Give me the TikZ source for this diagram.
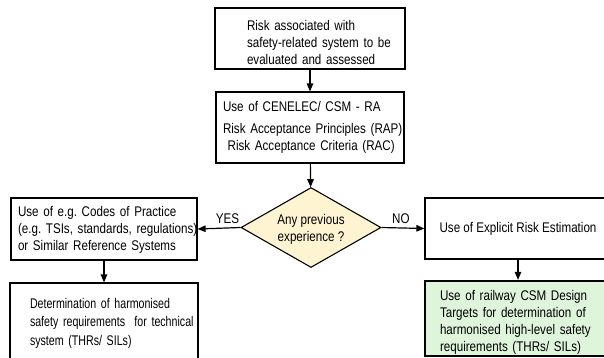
\documentclass[tikz,border=0pt]{standalone}
\usepackage{fontspec}
\setmainfont{Liberation Sans}[FakeStretch=0.83]
\newfontfamily\narrowsans{Liberation Sans}[FakeStretch=0.76]
\usetikzlibrary{arrows.meta,shapes.geometric}
\frenchspacing
\definecolor{decisionfill}{RGB}{255,244,210}
\definecolor{targetfill}{RGB}{222,245,220}
% raise the height of a first line so that a text block sits lower in its box
\newcommand{\toppad}[1]{\rule{0pt}{#1}}
\tikzset{
  box/.style={draw=black, line width=1.2pt, fill=white, align=left,
    inner xsep=0pt, inner ysep=2pt, font=\fontsize{14}{17}\selectfont},
  target/.style={box, fill=targetfill, line width=2.4pt},
  decision/.style={draw=black, line width=1.1pt, fill=decisionfill,
    shape=diamond, aspect=1.75, inner sep=0pt, align=center,
    font=\fontsize{14}{17}\selectfont},
  flow/.style={draw=black, line width=1.2pt,
    -{Triangle[length=8pt,width=6.5pt]}},
  branch/.style={font=\fontsize{14}{17}\selectfont, inner sep=1pt}
}
\begin{document}
\begin{tikzpicture}[x=1pt,y=-1pt]
\useasboundingbox (0,0) rectangle (604,357);

% main column
\node[box, minimum width=190pt, minimum height=61pt, text width=126pt]
  (risk) at (310,38.5)
  {\mbox{\toppad{18pt}Risk associated with}\\\mbox{safety-related system to be}\\\mbox{evaluated and assessed}};

\node[box, minimum width=188pt, minimum height=71pt, text width=174pt]
  (csm) at (310,127.5)
  {\mbox{Use of CENELEC/ CSM - RA}\\[5pt]\mbox{Risk Acceptance Principles (RAP)}\\\mbox{ Risk Acceptance Criteria (RAC)}};

\node[decision, minimum width=140pt, minimum height=80pt]
  (exp) at (311,227.5) {\toppad{14pt}Any previous\\experience ?};

% left branch
\node[box, minimum width=186pt, minimum height=62pt, text width=172pt]
  (codes) at (104,229)
  {\mbox{\toppad{12pt}Use of e.g. Codes of Practice}\\\mbox{(e.g. TSIs, standards, regulations)}\\\mbox{or Similar Reference Systems}};

\node[box, minimum width=188pt, minimum height=80pt, text width=148pt,
      font=\narrowsans\fontsize{14}{18.5}\selectfont]
  (harm) at (104,323)
  {\mbox{Determination of harmonised}\\\mbox{safety requirements\ \ for technical}\\\mbox{system (THRs/ SILs)}};

% right branch
\node[box, minimum width=186pt, minimum height=61pt, align=center]
  (explicit) at (518,228.5) {Use of Explicit Risk Estimation};

\node[target, minimum width=186pt, minimum height=73pt, text width=156pt]
  (design) at (518,318.5)
  {\mbox{\toppad{17pt}Use of railway CSM Design}\\\mbox{Targets for determination of}\\\mbox{harmonised high-level safety}\\\mbox{requirements (THRs/ SILs)}};

% connectors
\draw[flow] (risk) -- (csm);
\draw[flow] (csm) -- (exp);
\draw[flow] (exp.west) -- node[branch, above, pos=0.3, yshift=3pt] {YES} (codes.east);
\draw[flow] (exp.east) -- node[branch, above, pos=0.45, yshift=3pt] {NO} (explicit.west);
\draw[flow] (codes) -- (harm);
\draw[flow] (explicit) -- (design);
\end{tikzpicture}
\end{document}
